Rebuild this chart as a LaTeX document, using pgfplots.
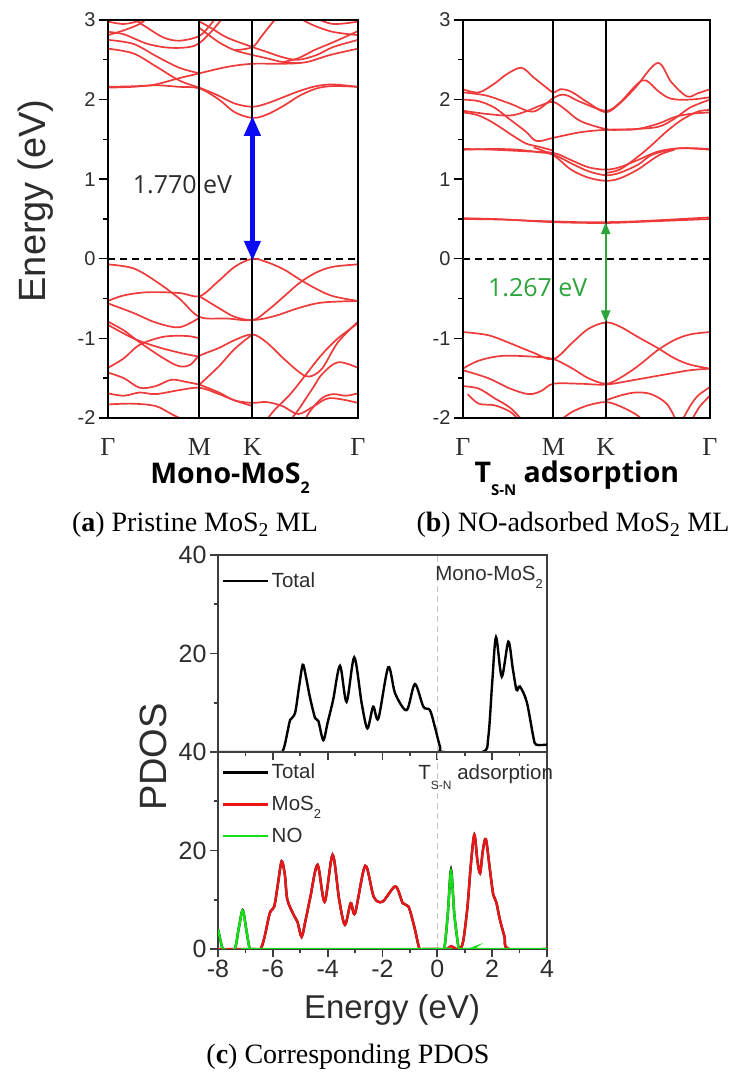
\documentclass[border=0pt]{standalone}
\usepackage{fontspec}
\setmainfont{Liberation Serif}
\setsansfont{Liberation Sans}
\newfontfamily\osans{Open Sans}
\usepackage{pgfplots}
\pgfplotsset{compat=1.18}
\usetikzlibrary{arrows.meta}

\definecolor{bandred}{RGB}{238,58,58}
\definecolor{pdosred}{RGB}{232,22,22}
\definecolor{pdosgreen}{RGB}{20,225,20}
\definecolor{gapgreen}{RGB}{45,165,60}
\definecolor{gapblue}{RGB}{10,10,245}
\definecolor{axgray}{RGB}{62,62,62}
\definecolor{txtgray}{RGB}{45,45,45}

\pgfplotsset{
  bandax/.style={
    scale only axis, height=398pt, clip mode=individual,
    xmin=0, xmax=1.577, ymin=-2, ymax=3,
    ytick={-2,-1,0,1,2,3}, yticklabels={-2,-1,0,1,2,3},
    minor ytick={-1.5,-0.5,0.5,1.5,2.5},
    ytick pos=left, tick align=outside,
    major tick length=9pt, minor tick length=5pt,
    xtick={0,0.577,0.911,1.577}, xticklabels={Γ,M,K,Γ},
    x tick style={draw=none},
    y tick style={black, line width=1.4pt},
    axis line style={line width=2pt},
    yticklabel style={font=\sffamily\fontsize{20}{20}\selectfont, text=txtgray},
    xticklabel style={font=\rmfamily\fontsize{26}{26}\selectfont, text=txtgray, inner sep=0pt, yshift=-11pt},
    axis on top,
  },
  band/.style={bandred, line width=1.7pt, smooth, tension=0.55, no marks},
  pdosax/.style={
    scale only axis, width=329pt, height=197pt, clip mode=individual,
    xmin=-8, xmax=4, ymin=0, ymax=40,
    xtick={-8,-6,...,4}, minor xtick={-7,-5,...,3},
    minor ytick={10,30},
    tick align=outside, xtick pos=bottom, ytick pos=left,
    major tick length=8pt, minor tick length=4.5pt,
    axis line style={line width=2.2pt, draw=axgray},
    tick style={axgray, line width=1.8pt},
    ticklabel style={font=\sffamily\fontsize{25}{25}\selectfont, text=txtgray},
    legend style={draw=none, fill=none, inner sep=0pt,
      font=\sffamily\fontsize{20.5}{20.5}\selectfont, text=txtgray,
      row sep=12pt, legend cell align=left},
    legend image code/.code={\draw[#1, line width=2.6pt] (0pt,0pt) -- (45pt,0pt);},
  },
}

\begin{document}
\begin{tikzpicture}

% ---------- (a) pristine band structure ----------
\begin{axis}[bandax, width=250pt, at={(108pt,663pt)}, anchor=south west,
  ylabel={Energy (eV)},
  ylabel style={font=\sffamily\fontsize{38}{38}\selectfont, text=txtgray,
    at={(axis description cs:-0.288,0.545)}, anchor=center}]
\addplot[black, line width=1.8pt, dash pattern=on 7pt off 5pt] coordinates {(0,0)(1.577,0)};
% conduction bands
\addplot[band] coordinates {(0,2.15)(0.15,2.16)(0.3,2.18)(0.45,2.16)(0.577,2.14)(0.7,2.0)(0.8,1.84)(0.911,1.77)(1.0,1.81)(1.106,1.92)(1.21,2.05)(1.316,2.14)(1.42,2.17)(1.577,2.16)};
\addplot[band] coordinates {(0.577,2.15)(0.686,2.06)(0.8,1.95)(0.911,1.91)(1.0,1.95)(1.106,2.03)(1.21,2.11)(1.316,2.17)(1.42,2.19)(1.577,2.16)};
\addplot[band] coordinates {(0,2.64)(0.16,2.58)(0.3,2.42)(0.45,2.24)(0.577,2.15)};
\addplot[band] coordinates {(0,2.16)(0.2,2.17)(0.3,2.19)(0.45,2.27)(0.577,2.33)(0.75,2.41)(0.911,2.45)(1.1,2.45)(1.25,2.47)(1.4,2.56)(1.577,2.64)};
\addplot[band] coordinates {(0,2.75)(0.16,2.7)(0.3,2.55)(0.45,2.4)(0.577,2.33)};
\addplot[band] coordinates {(0,2.85)(0.1,2.82)(0.25,2.7)(0.4,2.65)(0.55,2.68)(0.65,2.85)(0.72,3.02)};
\addplot[band] coordinates {(0.577,2.98)(0.65,2.9)(0.75,2.78)(0.911,2.66)(1.0,2.6)(1.106,2.53)(1.2,2.5)(1.316,2.56)(1.42,2.66)(1.577,2.75)};
\addplot[band] coordinates {(0.577,2.9)(0.7,2.72)(0.8,2.62)(0.911,2.56)(1.0,2.52)(1.106,2.47)(1.21,2.46)};
\addplot[band] coordinates {(0.8,2.62)(0.911,2.66)(0.97,2.8)(1.03,2.95)(1.06,3.02)};
\addplot[band] coordinates {(0,2.98)(0.1,2.95)(0.2,2.99)(0.26,3.03)};
\addplot[band] coordinates {(0,2.81)(0.1,2.87)(0.2,2.95)(0.25,3.03)};
\addplot[band] coordinates {(0.15,3.03)(0.25,2.9)(0.35,2.78)(0.45,2.74)(0.577,2.8)(0.65,2.95)(0.68,3.03)};
\addplot[band] coordinates {(1.2,3.03)(1.3,2.93)(1.42,2.85)(1.577,2.81)};
\addplot[band] coordinates {(1.3,3.03)(1.42,2.95)(1.577,2.98)};
\addplot[band] coordinates {(1.1,2.47)(1.2,2.52)(1.3,2.62)(1.42,2.72)(1.577,2.86)};
% valence bands
\addplot[band] coordinates {(0,-0.07)(0.16,-0.12)(0.3,-0.28)(0.45,-0.5)(0.577,-0.73)(0.75,-0.75)(0.911,-0.77)(1.0,-0.66)(1.106,-0.48)(1.21,-0.3)(1.316,-0.17)(1.42,-0.1)(1.577,-0.07)};
\addplot[band] coordinates {(0,-0.53)(0.1,-0.46)(0.25,-0.42)(0.45,-0.43)(0.577,-0.47)(0.686,-0.3)(0.8,-0.1)(0.911,0)(1.0,-0.04)(1.106,-0.13)(1.21,-0.26)(1.316,-0.38)(1.42,-0.47)(1.577,-0.53)};
\addplot[band] coordinates {(0,-0.56)(0.16,-0.68)(0.3,-0.8)(0.45,-0.86)(0.577,-0.74)};
\addplot[band] coordinates {(0.577,-0.47)(0.7,-0.62)(0.8,-0.73)(0.911,-0.77)(1.05,-0.72)(1.2,-0.62)(1.35,-0.55)(1.577,-0.53)};
\addplot[band] coordinates {(0,-0.79)(0.1,-0.9)(0.2,-1.05)(0.35,-1.25)(0.45,-1.35)(0.52,-1.33)(0.577,-1.22)(0.7,-1.12)(0.8,-1.02)(0.911,-0.95)(1.0,-1.05)(1.106,-1.25)(1.21,-1.43)(1.27,-1.48)(1.35,-1.38)(1.45,-1.05)(1.577,-0.79)};
\addplot[band] coordinates {(0,-0.83)(0.16,-1.0)(0.3,-1.1)(0.45,-1.18)(0.577,-1.23)};
\addplot[band] coordinates {(0,-1.37)(0.1,-1.25)(0.2,-1.08)(0.35,-0.98)(0.5,-0.97)(0.577,-1.0)};
\addplot[band] coordinates {(0.577,-1.58)(0.7,-1.35)(0.8,-1.13)(0.911,-0.95)};
\addplot[band] coordinates {(0.577,-1.58)(0.7,-1.68)(0.8,-1.78)(0.911,-1.81)(1.0,-1.8)(1.1,-1.85)(1.2,-1.95)(1.3,-1.85)(1.4,-1.75)(1.577,-1.81)};
\addplot[band] coordinates {(0,-1.43)(0.1,-1.5)(0.2,-1.62)(0.3,-1.6)(0.4,-1.52)(0.5,-1.55)(0.577,-1.58)};
\addplot[band] coordinates {(0,-1.69)(0.1,-1.72)(0.2,-1.68)(0.3,-1.7)(0.45,-1.65)(0.577,-1.62)(0.7,-1.7)(0.8,-1.78)(0.911,-1.85)};
\addplot[band] coordinates {(0,-1.83)(0.15,-1.82)(0.3,-1.85)(0.4,-1.95)(0.48,-2.03)};
\addplot[band] coordinates {(1.577,-0.81)(1.45,-1.0)(1.35,-1.2)(1.25,-1.45)(1.15,-1.7)(1.05,-1.9)(1.0,-2.03)};
\addplot[band] coordinates {(1.577,-1.37)(1.45,-1.3)(1.35,-1.45)(1.3,-1.6)(1.25,-1.75)(1.2,-1.9)(1.15,-2.03)};
\addplot[band] coordinates {(1.577,-1.69)(1.5,-1.72)(1.42,-1.7)(1.35,-1.75)(1.28,-1.9)(1.24,-2.03)};
% high-symmetry lines
\addplot[black, line width=2pt] coordinates {(0.577,-2)(0.577,3)};
\addplot[black, line width=2pt] coordinates {(0.911,-2)(0.911,3)};
% gap arrow
\addplot[gapblue, line width=4.5pt, {Triangle[width=16pt,length=20pt]}-{Triangle[width=16pt,length=20pt]}, shorten <=-2pt, shorten >=-2pt] coordinates {(0.911,0)(0.911,1.77)};
\node[font=\osans\fontsize{25}{25}\selectfont, text=txtgray] at (axis cs:0.47,0.93) {1.770 eV};
\node[font=\osans\bfseries\fontsize{28.5}{28.5}\selectfont, text=black, inner sep=0pt] at (axis description cs:0.488,-0.152) {Mono-MoS\raisebox{-0.35em}{\fontsize{16}{16}\selectfont 2}};
\end{axis}

% ---------- (b) NO-adsorbed band structure ----------
\begin{axis}[bandax, width=247pt, at={(463pt,663pt)}, anchor=south west]
\addplot[black, line width=1.8pt, dash pattern=on 7pt off 5pt] coordinates {(0,0)(1.577,0)};
% conduction bands
\addplot[band] coordinates {(0,2.13)(0.1,2.09)(0.2,2.2)(0.28,2.32)(0.373,2.40)(0.45,2.28)(0.52,2.17)(0.577,2.09)(0.62,2.13)(0.69,2.1)(0.8,1.96)(0.911,1.84)(1.0,1.95)(1.1,2.15)(1.242,2.46)(1.33,2.22)(1.43,2.04)(1.5,2.08)(1.577,2.13)};
\addplot[band] coordinates {(0,2.09)(0.15,2.05)(0.3,1.95)(0.45,1.85)(0.577,2.02)(0.65,2.06)(0.75,1.97)(0.911,1.86)(1.0,1.96)(1.115,2.2)(1.17,2.24)(1.25,2.1)(1.33,2.01)(1.45,2.0)(1.577,2.03)};
\addplot[band] coordinates {(0,2.0)(0.1,1.98)(0.2,1.9)(0.3,1.75)(0.4,1.6)(0.47,1.48)(0.577,1.52)(0.75,1.59)(0.911,1.62)(1.1,1.63)(1.25,1.66)(1.35,1.76)(1.45,1.9)(1.577,2.0)};
\addplot[band] coordinates {(0,1.86)(0.15,1.82)(0.3,1.8)(0.4,1.85)(0.5,1.93)(0.577,1.97)(0.65,1.88)(0.75,1.73)(0.911,1.63)(1.0,1.62)(1.115,1.63)(1.25,1.7)(1.35,1.78)(1.45,1.82)(1.577,1.84)};
\addplot[band] coordinates {(0,1.84)(0.1,1.8)(0.2,1.7)(0.3,1.57)(0.4,1.45)(0.48,1.41)(0.577,1.36)};
\addplot[band] coordinates {(0.911,1.08)(1.0,1.12)(1.115,1.28)(1.2,1.42)(1.3,1.6)(1.4,1.75)(1.5,1.85)(1.577,1.87)};
\addplot[band] coordinates {(0,1.37)(0.2,1.38)(0.35,1.37)(0.48,1.34)(0.577,1.31)(0.69,1.2)(0.8,1.1)(0.911,1.05)(1.0,1.08)(1.115,1.18)(1.2,1.3)(1.3,1.36)(1.4,1.39)(1.577,1.37)};
\addplot[band] coordinates {(0,1.38)(0.2,1.37)(0.4,1.35)(0.577,1.33)(0.69,1.24)(0.8,1.15)(0.911,1.12)(1.0,1.15)(1.115,1.24)(1.25,1.35)(1.4,1.39)(1.577,1.38)};
\addplot[band] coordinates {(0.45,1.4)(0.577,1.3)(0.69,1.12)(0.8,1.02)(0.911,0.98)(1.0,1.01)(1.115,1.12)(1.25,1.3)(1.35,1.37)};
% defect (NO) bands
\addplot[band] coordinates {(0,0.51)(0.2,0.5)(0.4,0.48)(0.577,0.47)(0.75,0.46)(0.911,0.46)(1.1,0.47)(1.3,0.49)(1.577,0.52)};
\addplot[band] coordinates {(0,0.50)(0.3,0.49)(0.577,0.46)(0.911,0.45)(1.2,0.47)(1.577,0.50)};
% valence bands
\addplot[band] coordinates {(0,-0.92)(0.161,-0.96)(0.3,-1.06)(0.45,-1.18)(0.577,-1.26)(0.7,-1.05)(0.8,-0.88)(0.911,-0.80)(1.0,-0.85)(1.115,-0.98)(1.242,-1.12)(1.35,-1.25)(1.45,-1.33)(1.577,-1.38)};
\addplot[band] coordinates {(0,-1.38)(0.1,-1.28)(0.25,-1.22)(0.45,-1.23)(0.577,-1.26)(0.7,-1.38)(0.8,-1.5)(0.911,-1.57)(1.0,-1.5)(1.115,-1.35)(1.242,-1.15)(1.35,-1.02)(1.45,-0.95)(1.577,-0.92)};
\addplot[band] coordinates {(0,-1.4)(0.161,-1.5)(0.3,-1.63)(0.42,-1.7)(0.5,-1.66)(0.577,-1.57)(0.75,-1.57)(0.911,-1.58)(1.1,-1.52)(1.3,-1.45)(1.45,-1.4)(1.577,-1.38)};
\addplot[band] coordinates {(0,-1.6)(0.1,-1.63)(0.2,-1.75)(0.3,-1.87)(0.38,-2.03)};
\addplot[band] coordinates {(0.03,-1.7)(0.1,-1.82)(0.2,-1.84)(0.3,-1.92)(0.36,-2.03)};
\addplot[band] coordinates {(0.62,-2.03)(0.7,-1.92)(0.8,-1.84)(0.911,-1.8)(1.0,-1.85)(1.1,-1.95)(1.15,-2.03)};
\addplot[band] coordinates {(0.911,-1.78)(1.0,-1.72)(1.1,-1.68)(1.2,-1.7)(1.3,-1.82)(1.36,-2.03)};
\addplot[band] coordinates {(1.4,-2.03)(1.45,-1.85)(1.5,-1.72)(1.577,-1.61)};
\addplot[band] coordinates {(1.46,-2.03)(1.51,-1.86)(1.577,-1.72)};
% high-symmetry lines
\addplot[black, line width=2pt] coordinates {(0.577,-2)(0.577,3)};
\addplot[black, line width=2pt] coordinates {(0.911,-2)(0.911,3)};
% gap arrow
\addplot[gapgreen, line width=2.2pt, {Triangle[width=9pt,length=12pt]}-{Triangle[width=9pt,length=12pt]}] coordinates {(0.911,0.46)(0.911,-0.80)};
\node[font=\osans\fontsize{25}{25}\selectfont, text=gapgreen] at (axis cs:0.477,-0.36) {1.267 eV};
\node[font=\osans\bfseries\fontsize{28.5}{28.5}\selectfont, text=black, inner sep=0pt] at (axis description cs:0.461,-0.152) {T\raisebox{-0.45em}{\fontsize{15}{15}\selectfont S-N} adsorption};
\end{axis}

% ---------- (c) PDOS, pristine ----------
\begin{axis}[pdosax, at={(218pt,329pt)}, anchor=south west,
  ytick={20,40}, yticklabels={20,40}, xticklabels={},
  legend style={at={(axis description cs:0.012,0.92)}, anchor=north west}]
\addplot[gray!45, line width=1.4pt, dash pattern=on 6pt off 4pt, forget plot] coordinates {(0,0)(0,40)};
\addplot[black, line width=2.4pt, smooth, tension=0.5] coordinates {(-8,0)(-5.9,0)(-5.63,0.3)(-5.45,4.5)(-5.37,6.5)(-5.19,7.9)(-5.05,13)(-4.91,17.7)(-4.8,15.5)(-4.65,11.2)(-4.46,6.9)(-4.34,6.3)(-4.16,2.4)(-4.0,6)(-3.8,10.6)(-3.55,17.5)(-3.31,10.2)(-3.03,19.2)(-2.76,9.9)(-2.55,4.8)(-2.34,9.2)(-2.15,6.8)(-1.79,17.2)(-1.54,11.9)(-1.12,8.5)(-0.82,13.8)(-0.51,9.2)(-0.27,8.5)(-0.09,5.1)(0.1,1)(0.2,0)(1.65,0)(1.86,3.1)(2.0,14)(2.14,23.3)(2.35,15.3)(2.59,22.4)(2.75,17)(2.89,12.6)(3.01,13.3)(3.26,10.2)(3.5,3.1)(3.6,1.5)(4,1.5)};
\addlegendentry{Total}
\node[anchor=west, font=\sffamily\fontsize{20.5}{20.5}\selectfont, text=txtgray] at (axis cs:-0.2,35.5) {Mono-MoS\raisebox{-0.4em}{\fontsize{13}{13}\selectfont 2}};
\end{axis}

% ---------- (c) PDOS, NO adsorbed ----------
\begin{axis}[pdosax, at={(218pt,132pt)}, anchor=south west,
  ytick={0,20,40}, yticklabels={0,20,40},
  xticklabels={-8,-6,-4,-2,0,2,4},
  xlabel={Energy (eV)},
  xlabel style={font=\sffamily\fontsize{33}{33}\selectfont, text=txtgray,
    at={(axis description cs:0.529,-0.31)}, anchor=center},
  legend style={at={(axis description cs:0.012,0.95)}, anchor=north west}]
\addplot[gray!45, line width=1.4pt, dash pattern=on 6pt off 4pt, forget plot] coordinates {(0,0)(0,40)};
\addplot[black, line width=2.4pt, smooth, tension=0.5] coordinates {(-8,4)(-7.9,1.5)(-7.8,0)(-7.4,0)(-7.25,4)(-7.1,7.9)(-6.97,4)(-6.84,0)(-6.7,0)(-6.45,0)(-6.3,2.5)(-6.11,7.3)(-5.95,8.6)(-5.82,13)(-5.68,17.8)(-5.56,15)(-5.47,10.0)(-5.21,6.6)(-5.1,5.5)(-4.95,2.5)(-4.8,6)(-4.63,10.6)(-4.37,17.1)(-4.11,9.6)(-3.82,19.1)(-3.58,10.0)(-3.37,4.9)(-3.16,9.3)(-3.0,7.3)(-2.63,16.9)(-2.32,10.6)(-2.0,9.6)(-1.53,12.7)(-1.26,9.3)(-1.05,8.6)(-0.84,4.5)(-0.65,0)(-0.5,0)(0.1,0)(0.25,0)(0.38,7)(0.5,16.1)(0.62,7)(0.78,0)(0.84,0)(0.95,1.8)(1.1,8.6)(1.22,17)(1.35,23.2)(1.46,18)(1.56,15.4)(1.66,20)(1.77,22.3)(1.92,16)(2.04,11)(2.15,9.5)(2.28,6)(2.45,2.5)(2.6,0)(4,0)};
\addlegendentry{Total}
\addplot[pdosred, line width=2.4pt, smooth, tension=0.5] coordinates {(-8,0)(-6.7,0)(-6.45,0)(-6.3,2.5)(-6.11,7.3)(-5.95,8.6)(-5.82,13)(-5.68,17.8)(-5.56,15)(-5.47,10.0)(-5.21,6.6)(-5.1,5.5)(-4.95,2.5)(-4.8,6)(-4.63,10.6)(-4.37,17.1)(-4.11,9.6)(-3.82,19.1)(-3.58,10.0)(-3.37,4.9)(-3.16,9.3)(-3.0,7.3)(-2.63,16.9)(-2.32,10.6)(-2.0,9.6)(-1.53,12.7)(-1.26,9.3)(-1.05,8.6)(-0.84,4.5)(-0.65,0)(-0.5,0)(0.3,0)(0.5,0.6)(0.7,0)(0.78,0)(0.84,0)(0.95,1.8)(1.1,8.6)(1.22,17)(1.35,23.2)(1.46,18)(1.56,15.4)(1.66,20)(1.77,22.3)(1.92,16)(2.04,11)(2.15,9.5)(2.28,6)(2.45,2.5)(2.6,0)(4,0)};
\addlegendentry{MoS\raisebox{-0.4em}{\fontsize{13}{13}\selectfont 2}}
\addplot[pdosgreen, line width=2.4pt, smooth, tension=0.5] coordinates {(-8,4)(-7.9,1.5)(-7.8,0)(-7.4,0)(-7.25,4)(-7.1,7.8)(-6.97,4)(-6.84,0)(-6.7,0)(0.1,0)(0.25,0)(0.38,7)(0.5,15.7)(0.62,7)(0.78,0)(0.84,0)(1.2,0)(1.35,0.3)(1.5,0)(4,0)};
\addlegendentry{NO}
\node[anchor=west, font=\sffamily\fontsize{20.5}{20.5}\selectfont, text=txtgray] at (axis cs:-0.82,34.9) {T\raisebox{-0.45em}{\fontsize{12}{12}\selectfont S-N} adsorption};
\end{axis}

% ---------- labels and captions ----------
\node[rotate=90, font=\sffamily\fontsize{38}{38}\selectfont, text=txtgray] at (153pt,324pt) {PDOS};
\node[font=\rmfamily\fontsize{28}{28}\selectfont] at (195pt,556pt) {(\textbf{a}) Pristine MoS\textsubscript{2} ML};
\node[font=\rmfamily\fontsize{28}{28}\selectfont] at (573pt,556pt) {(\textbf{b}) NO-adsorbed MoS\textsubscript{2} ML};
\node[font=\rmfamily\fontsize{28}{28}\selectfont] at (348pt,24pt) {(\textbf{c}) Corresponding PDOS};

\pgfresetboundingbox
\path[use as bounding box] (0pt,0pt) rectangle (752pt,1081pt);
\end{tikzpicture}
\end{document}
